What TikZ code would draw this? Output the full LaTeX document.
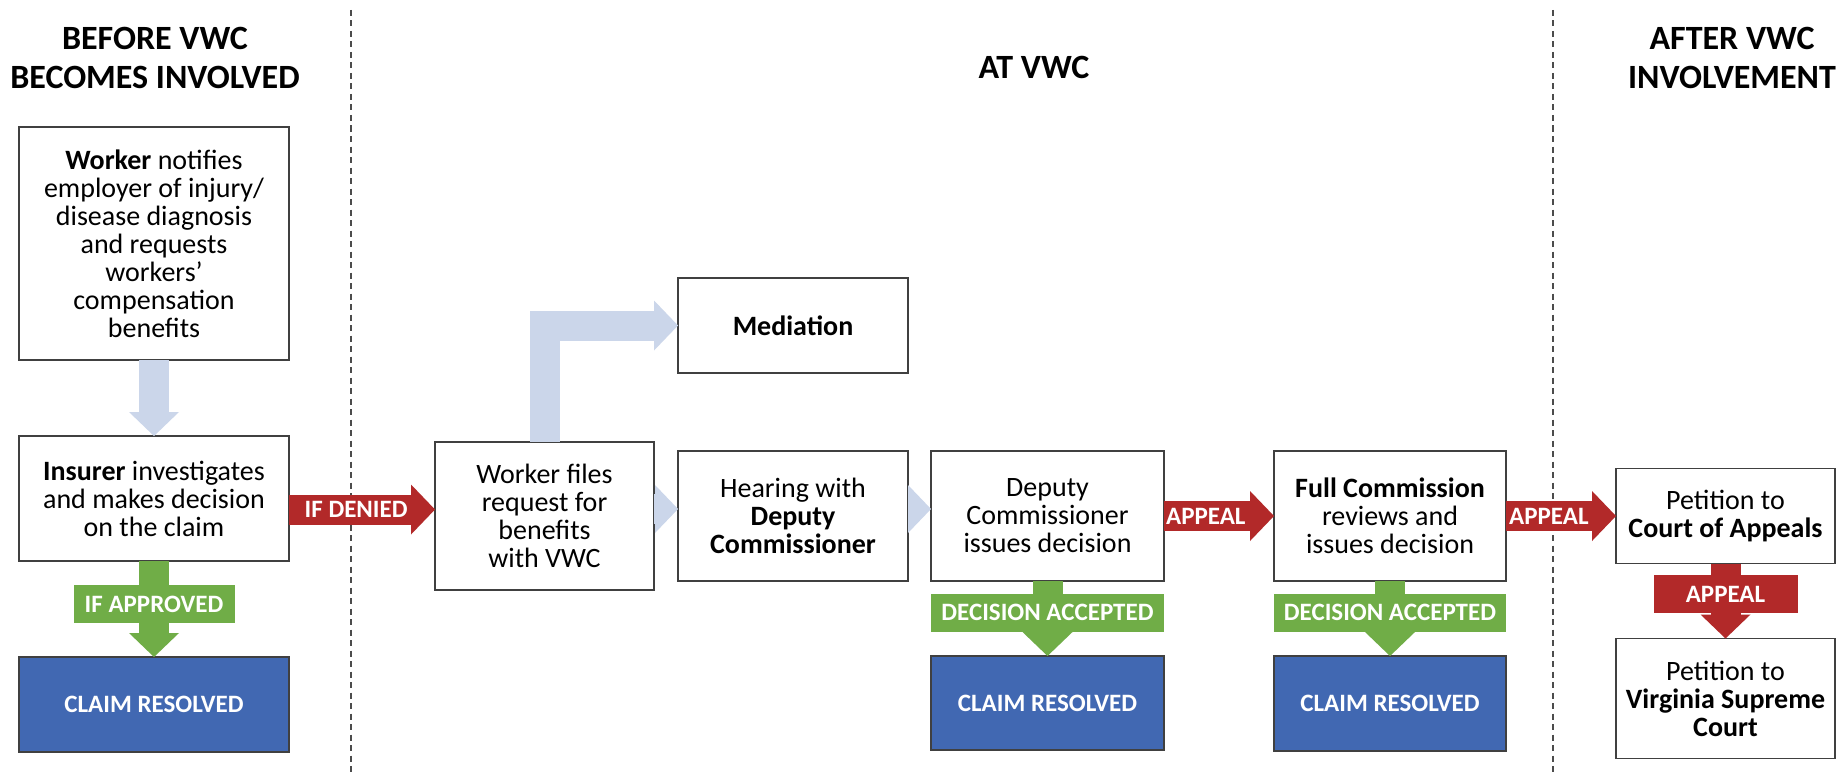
\documentclass[tikz,border=0pt]{standalone}
\usepackage{fontspec}
\setmainfont{Carlito}
\usepackage{xcolor}
\usepackage{tikz}
\usetikzlibrary{positioning,arrows.meta}

\definecolor{boxline}{RGB}{64,64,64}
\definecolor{resblue}{RGB}{65,104,178}
\definecolor{flowblue}{RGB}{203,214,234}
\definecolor{denyred}{RGB}{178,41,41}
\definecolor{okgreen}{RGB}{112,173,71}

\begin{document}
\begin{tikzpicture}[
    % Define node styles
    x=1pt, y=-1pt,
    box/.style={rectangle, draw=boxline, line width=1.5pt, fill=white, align=center, inner sep=0pt, outer sep=0pt, font=\fontsize{28}{28}\selectfont},
    resolved/.style={rectangle, draw=boxline, line width=1.5pt, fill=resblue, text=white, inner sep=0pt, outer sep=0pt, font=\fontsize{25}{28}\selectfont\bfseries},
    heading/.style={align=center, font=\fontsize{34}{39}\selectfont\bfseries},
    divider/.style={draw=black!70, line width=1.5pt, dash pattern=on 6pt off 4.5pt},
    flow/.style={draw=flowblue, line width=30pt, -{Triangle[width=50pt, length=24pt, line width=0pt]}},
    chevron/.style={draw=flowblue, line width=30pt, -{Triangle[width=48pt, length=23pt, line width=0pt]}},
    redarrow/.style={draw=denyred, line width=30pt, -{Triangle[width=50pt, length=24pt, line width=0pt]}},
    greenarrow/.style={draw=okgreen, line width=30pt, -{Triangle[width=50pt, length=24pt, line width=0pt]}},
    onarrow/.style={text=white, inner sep=0pt, font=\fontsize{25}{28}\selectfont\bfseries},
    greenlab/.style={onarrow, fill=okgreen, minimum height=38pt},
    redlab/.style={onarrow, fill=denyred, minimum height=38pt},
]

\fill[white] (0,0) rectangle (1843,773);
\useasboundingbox (0,0) rectangle (1843,773);

% Column headings and dividers
\node[heading] (before) at (155,57.5) {BEFORE VWC\\BECOMES INVOLVED};
\node[heading] (atvwc) at (1034,67) {AT VWC};
\node[heading] (after) at (1732,57.5) {AFTER VWC\\INVOLVEMENT};
\draw[divider] (351,10) -- (351,773);
\draw[divider] (1553,10) -- (1553,773);

% Main nodes
\node[box, minimum width=270pt, minimum height=233pt] (worker) at (154,243.5)
    {\textbf{Worker} notifies\\employer of injury/\\disease diagnosis\\and requests\\workers’\\compensation\\benefits};
\node[box, minimum width=270pt, minimum height=125pt, below= 76pt of worker] (insurer)
    {\textbf{Insurer} investigates\\and makes decision\\on the claim};
\node[resolved, minimum width=270pt, minimum height=95pt, below= 96pt of insurer] (claimA) {CLAIM RESOLVED};

\node[box, minimum width=230pt, minimum height=130pt] (hearing) at (793,516)
    {Hearing with\\\textbf{Deputy}\\\textbf{Commissioner}};
\node[box, minimum width=219pt, minimum height=148pt, left= 24pt of hearing] (files)
    {Worker files\\request for\\benefits\\with VWC};
\node[box, minimum width=230pt, minimum height=95pt, above= 78pt of hearing] (mediation) {\textbf{Mediation}};
\node[box, minimum width=233pt, minimum height=130pt, right= 23pt of hearing] (deputy)
    {Deputy\\Commissioner\\issues decision};
\node[resolved, minimum width=233pt, minimum height=94pt, below= 75pt of deputy] (claimB) {CLAIM RESOLVED};
\node[box, minimum width=232pt, minimum height=130pt, right= 110pt of deputy] (full)
    {\textbf{Full Commission}\\reviews and\\issues decision};
\node[resolved, minimum width=232pt, minimum height=95pt, below= 75pt of full] (claimC) {CLAIM RESOLVED};

\node[box, minimum width=219pt, minimum height=95pt, right= 110pt of full] (court)
    {Petition to\\\textbf{Court of Appeals}};
\node[box, minimum width=219pt, minimum height=120pt, below= 75pt of court] (supreme)
    {Petition to\\\textbf{Virginia Supreme}\\\textbf{Court}};

% Arrows for main flow
\draw[flow] (worker) -- (insurer);
\draw[flow] (files.north) |- (mediation.west);
\draw[chevron] ([yshift=7pt]files.east) -- ([yshift=7pt]hearing.west);
\draw[chevron] ([yshift=7pt]hearing.east) -- ([yshift=7pt]deputy.west);

\draw[redarrow] ([yshift=-11pt]insurer.east) -- ([yshift=-11pt]insurer.east -| files.west)
    node[pos=0.46, onarrow] {IF DENIED};
\draw[redarrow] (deputy) -- (full) node[pos=0.38, onarrow] {APPEAL};
\draw[redarrow] (full.east) -- (full.east -| court.west) node[pos=0.39, onarrow] {APPEAL};
\draw[redarrow] (court) -- (supreme) node[pos=0.41, redlab, minimum width=144pt] {APPEAL};

\draw[greenarrow] (insurer) -- (claimA) node[pos=0.45, greenlab, minimum width=161pt] {IF APPROVED};
\draw[greenarrow] (deputy) -- (claimB) node[pos=0.42, greenlab, minimum width=233pt] {DECISION ACCEPTED};
\draw[greenarrow] (full) -- (claimC) node[pos=0.42, greenlab, minimum width=232pt] {DECISION ACCEPTED};

\end{tikzpicture}
\end{document}
